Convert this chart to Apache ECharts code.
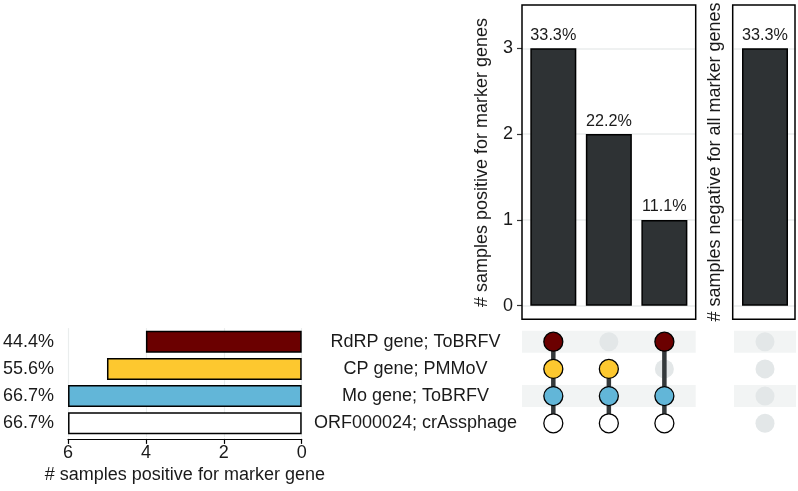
<!DOCTYPE html>
<html><head><meta charset="utf-8">
<script src="https://cdn.jsdelivr.net/npm/echarts@6/dist/echarts.min.js"></script>
<style>html,body{margin:0;padding:0;background:#fff}#c{width:798px;height:491px}</style>
</head><body><div id="c"></div>
<script>
// ---- data ----
const setNames = ['RdRP gene; ToBRFV', 'CP gene; PMMoV', 'Mo gene; ToBRFV', 'ORF000024; crAssphage'];
const setSizes = [4, 5, 6, 6];
const setPercents = ['44.4%', '55.6%', '66.7%', '66.7%'];
const setColors = ['#6b0000', '#fdc82f', '#62b6d8', '#ffffff'];
const interCounts = [3, 2, 1];
const interPercents = ['33.3%', '22.2%', '11.1%'];
const interMembers = [[1, 1, 1, 1], [0, 1, 1, 1], [1, 0, 1, 1]];
const negCounts = [3];
const negPercents = ['33.3%'];

// ---- style ----
const FONT = 'Liberation Sans, Arial, Helvetica, sans-serif';
const TXT = '#1a1a1a';
const GRIDC = '#eaeded';
const BARC = '#2e3234';
const EMPTY = '#e3e7e8';
const STRIPE = '#f2f4f4';
const LINEC = '#34393b';
const FS = 18;

const chart = echarts.init(document.getElementById('c'), null, {renderer: 'canvas'});

const topY = {top: 48.3, height: 257.4};
const matY = {top: 328.1, height: 108.8};
const L = {left: 522, width: 173.7};
const R = {left: 734, width: 62};

const stripeRender = function (params, api) {
  const cs = params.coordSys;
  const y = api.coord([0, api.value(1)])[1];
  return {type: 'rect', shape: {x: cs.x, y: y - 11, width: cs.width, height: 22}, style: {fill: STRIPE}};
};

const stripeData = setNames.map((n, i) => [0, i]).filter((d, i) => i % 2 === 0);

const emptyDots = [];
interMembers.forEach((m, c) => setNames.forEach((n, r) => emptyDots.push([c, r])));
const filledDots = [];
interMembers.forEach((m, c) => m.forEach((v, r) => {
  if (v) filledDots.push({value: [c, r], itemStyle: {color: setColors[r]}});
}));
const lineSeries = interMembers.map((m, c) => ({
  type: 'line', xAxisIndex: 2, yAxisIndex: 2, z: 3, symbol: 'none', silent: true,
  lineStyle: {color: LINEC, width: 4.5},
  data: m.map((v, r) => v ? [c, r] : null).filter(d => d)
}));

const hiddenVal = (min, max) => ({type: 'value', min: min, max: max, show: false,
  axisLine: {onZero: false}});

const option = {
  animation: false,
  backgroundColor: '#fff',
  textStyle: {fontFamily: FONT},
  grid: [
    {left: L.left, width: L.width, top: topY.top, height: topY.height},
    {left: R.left, width: R.width, top: topY.top, height: topY.height},
    {left: L.left, width: L.width, top: matY.top, height: matY.height},
    {left: R.left, width: R.width, top: matY.top, height: matY.height},
    {left: 67.3, width: 234.4, top: matY.top, height: matY.height}
  ],
  xAxis: [
    {gridIndex: 0, ...hiddenVal(-0.564, 2.564)},
    {gridIndex: 1, type: 'category', data: ['none'], show: false},
    {gridIndex: 2, ...hiddenVal(-0.564, 2.564)},
    {gridIndex: 3, type: 'category', data: ['none'], show: false},
    {gridIndex: 4, type: 'value', inverse: true, min: 0, max: 6, interval: 2, offset: 2,
      axisLine: {show: true, onZero: false, lineStyle: {color: '#000', width: 1.2}},
      axisTick: {show: true, length: 5, lineStyle: {color: '#000', width: 1.2}},
      axisLabel: {fontSize: FS, color: TXT, margin: 5, fontFamily: FONT},
      splitLine: {show: true, lineStyle: {color: GRIDC, width: 1.2}},
      name: '# samples positive for marker gene', nameLocation: 'middle', nameGap: 27,
      nameTextStyle: {fontSize: FS, color: TXT, fontFamily: FONT}}
  ],
  yAxis: [
    {gridIndex: 0, type: 'value', min: 0, max: 3, interval: 1,
      axisLine: {show: false, onZero: false},
      axisTick: {show: true, length: 5, lineStyle: {color: '#333', width: 1.2}},
      axisLabel: {fontSize: FS, color: TXT, margin: 9, fontFamily: FONT},
      splitLine: {show: true, lineStyle: {color: GRIDC, width: 1.5}}},
    {gridIndex: 1, type: 'value', min: 0, max: 3, interval: 1,
      axisLine: {show: false, onZero: false}, axisTick: {show: false}, axisLabel: {show: false},
      splitLine: {show: true, lineStyle: {color: GRIDC, width: 1.5}}},
    {gridIndex: 2, type: 'category', data: setNames, inverse: true,
      axisLine: {show: false, onZero: false}, axisTick: {show: false},
      axisLabel: {fontSize: FS, color: TXT, margin: 106.5, align: 'center', fontFamily: FONT},
      splitLine: {show: false}},
    {gridIndex: 3, type: 'category', data: setNames, inverse: true, show: false,
      axisLine: {onZero: false}},
    {gridIndex: 4, type: 'category', data: setNames, inverse: true,
      axisLine: {show: false, onZero: false}, axisTick: {show: false},
      axisLabel: {fontSize: FS, color: TXT, margin: 14, fontFamily: FONT,
        formatter: (v, i) => setPercents[i]}}
  ],
  series: [
    {type: 'bar', xAxisIndex: 0, yAxisIndex: 0, barWidth: 46, z: 3,
      data: interCounts.map((v, i) => [i, v]),
      itemStyle: {color: BARC, borderColor: '#000', borderWidth: 1.5},
      label: {show: true, position: 'top', distance: 5, fontSize: 16.2, color: TXT, fontFamily: FONT,
        formatter: p => interPercents[p.dataIndex]}},
    {type: 'bar', xAxisIndex: 1, yAxisIndex: 1, barWidth: 46, z: 3,
      data: negCounts,
      itemStyle: {color: BARC, borderColor: '#000', borderWidth: 1.5},
      label: {show: true, position: 'top', distance: 5, fontSize: 16.2, color: TXT, fontFamily: FONT,
        formatter: p => negPercents[p.dataIndex]}},
    {type: 'custom', xAxisIndex: 2, yAxisIndex: 2, z: 1, silent: true, renderItem: stripeRender,
      encode: {x: 0, y: 1}, data: stripeData},
    {type: 'scatter', xAxisIndex: 2, yAxisIndex: 2, z: 2, symbolSize: 19, silent: true,
      itemStyle: {color: EMPTY, opacity: 1}, data: emptyDots},
    ...lineSeries,
    {type: 'scatter', xAxisIndex: 2, yAxisIndex: 2, z: 4, symbolSize: 19, silent: true,
      itemStyle: {borderColor: '#000', borderWidth: 1.3, opacity: 1}, data: filledDots},
    {type: 'custom', xAxisIndex: 3, yAxisIndex: 3, z: 1, silent: true, renderItem: stripeRender,
      encode: {x: 0, y: 1}, data: stripeData},
    {type: 'scatter', xAxisIndex: 3, yAxisIndex: 3, z: 2, symbolSize: 19, silent: true,
      itemStyle: {color: EMPTY, opacity: 1}, data: setNames.map((n, r) => [0, r])},
    {type: 'bar', xAxisIndex: 4, yAxisIndex: 4, barWidth: 22, z: 3,
      data: setSizes.map((v, i) => ({value: v, itemStyle: {color: setColors[i]}})),
      itemStyle: {borderColor: '#000', borderWidth: 1.5}}
  ],
  graphic: [
    {type: 'rect', z: 100, silent: true, shape: {x: 522, y: 5, width: 173.7, height: 314.3},
      style: {fill: 'none', stroke: '#000', lineWidth: 1.5}},
    {type: 'rect', z: 100, silent: true, shape: {x: 732.7, y: 5, width: 62.3, height: 314.3},
      style: {fill: 'none', stroke: '#000', lineWidth: 1.5}},
    {type: 'text', z: 100, x: 482, y: 162.5, rotation: Math.PI / 2,
      style: {text: '# samples positive for marker genes', fontSize: FS, fontFamily: FONT, fill: TXT,
        align: 'center', verticalAlign: 'middle'}},
    {type: 'text', z: 100, x: 715, y: 162, rotation: Math.PI / 2,
      style: {text: '# samples negative for all marker genes', fontSize: FS, fontFamily: FONT, fill: TXT,
        align: 'center', verticalAlign: 'middle'}}
  ]
};
chart.setOption(option);
</script></body></html>
